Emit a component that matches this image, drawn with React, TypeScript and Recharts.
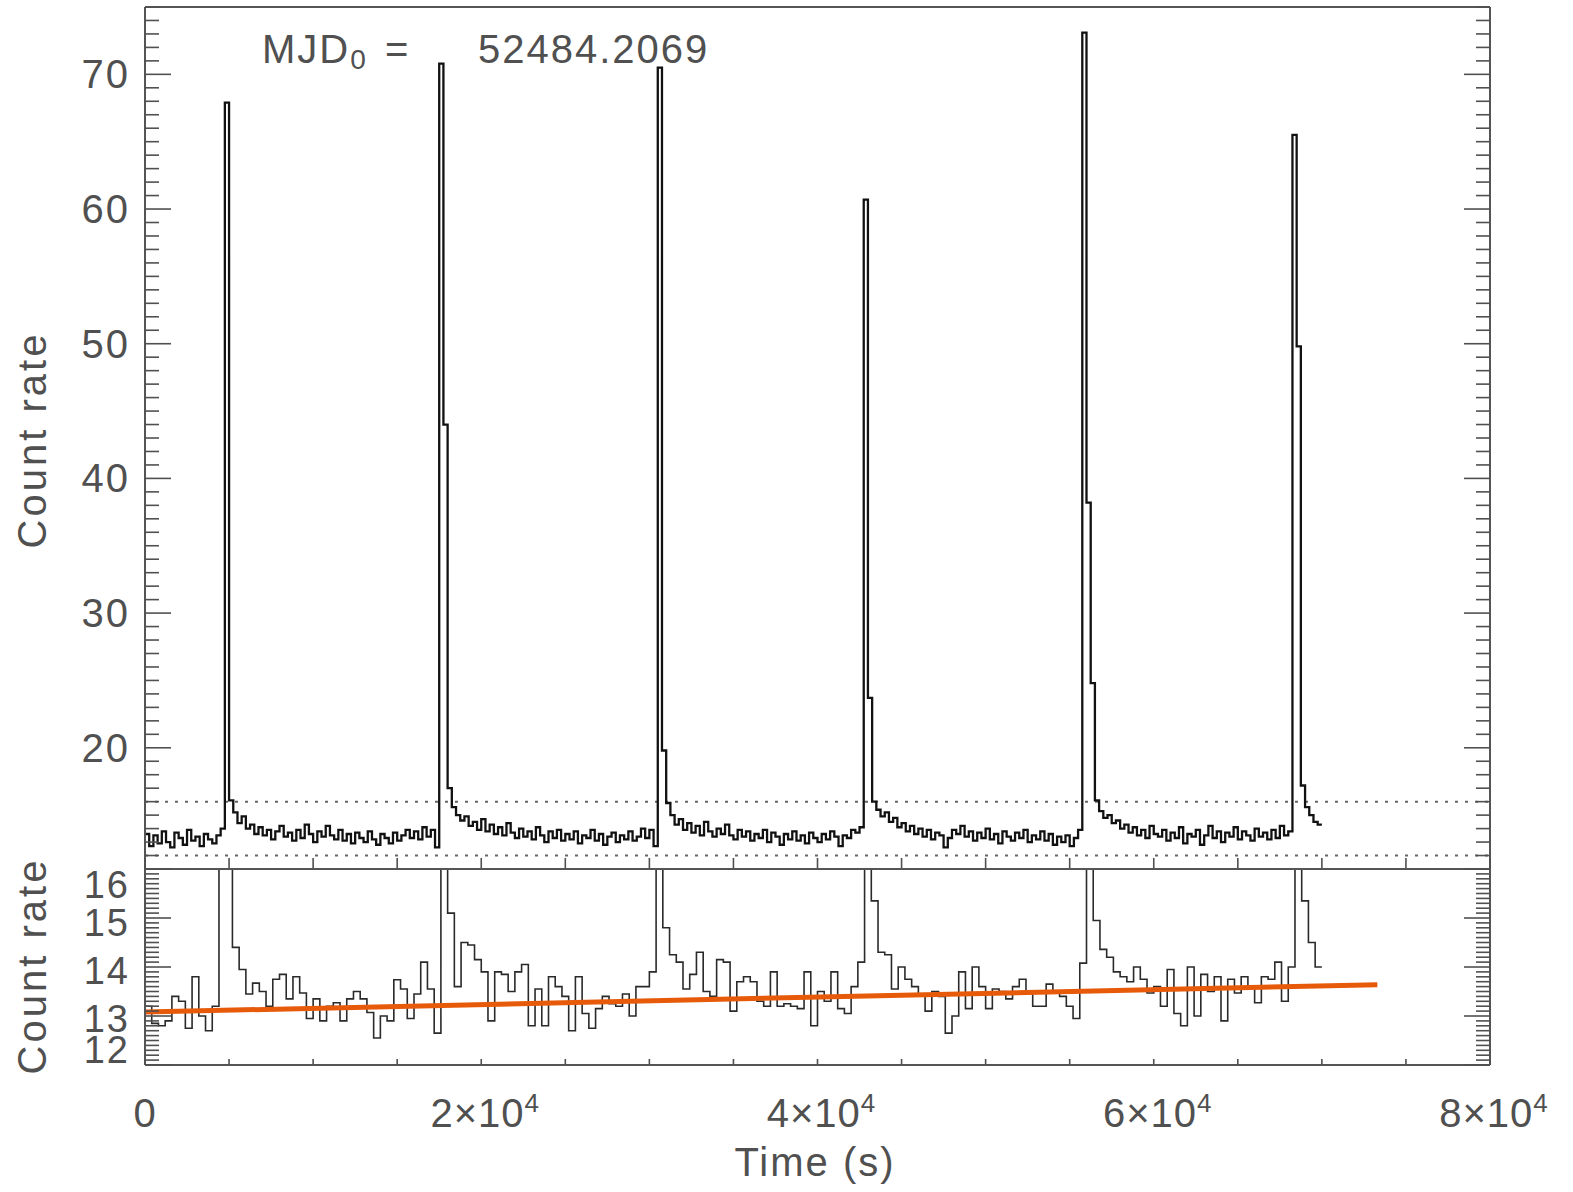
import React from 'react';
import { LineChart, Line, XAxis, YAxis, ReferenceLine } from 'recharts';

// light curve, 250 s bins (upper panel)
const FINE_BIN = 250;
const fineRate = [
  13.6, 12.7, 13.5, 12.9, 13.8, 13.0, 12.6, 13.7, 13.3, 12.8,
  13.9, 13.1, 13.4, 12.7, 13.6, 13.2, 12.9, 13.5, 14.0, 67.9,
  16.1, 15.2, 14.4, 14.9, 14.0, 14.3, 13.6, 14.1, 13.5, 13.9,
  13.2, 13.8, 14.2, 13.4, 13.7, 13.1, 13.9, 13.3, 14.3, 13.6,
  13.0, 13.8, 13.4, 14.2, 13.5, 13.2, 13.9, 13.1, 13.6, 12.9,
  13.7, 13.3, 13.0, 13.8, 13.2, 12.8, 13.6, 13.3, 12.9, 13.7,
  13.1, 13.5, 13.9, 13.3, 13.8, 13.2, 14.1, 13.4, 13.9, 12.6,
  70.8, 44.0, 17.0, 15.6, 15.0, 14.6, 14.9, 14.2, 14.5, 13.9,
  14.7, 13.8, 14.3, 13.6, 14.1, 13.5, 14.4, 13.7, 13.3, 14.0,
  13.4, 13.8, 13.2, 14.1, 13.5, 13.0, 13.8, 13.3, 13.9, 13.1,
  13.6, 13.2, 13.8, 12.9, 13.5, 13.3, 13.9, 13.1, 13.6, 12.8,
  13.4, 13.7, 13.0, 13.5, 13.2, 13.8, 13.1, 13.4, 14.0, 13.3,
  13.9, 12.7, 70.5, 19.8, 15.9, 15.0, 14.3, 14.7, 13.9, 14.4,
  13.7, 14.2, 13.5, 14.5, 13.8, 13.4, 14.0, 13.6, 14.3, 13.5,
  13.2, 13.9, 13.4, 13.8, 13.1, 13.6, 13.3, 13.9, 13.0, 13.7,
  13.4, 12.8, 13.6, 13.2, 13.8, 13.1, 13.5, 12.9, 13.7, 13.3,
  13.0, 13.6, 13.2, 13.8, 13.4, 12.7, 13.5, 13.3, 13.9, 13.7,
  14.1, 60.7, 23.7, 16.0, 15.4, 14.9, 15.2, 14.5, 14.8, 14.1,
  14.4, 13.8, 14.2, 13.6, 14.0, 13.4, 13.9, 13.2, 13.7, 13.5,
  12.6, 13.3, 13.9, 13.6, 14.2, 13.4, 13.8, 13.1, 13.7, 13.3,
  14.0, 13.2, 13.6, 12.9, 13.8, 13.4, 13.1, 13.7, 13.3, 13.9,
  13.0, 13.5, 13.2, 13.8, 13.1, 13.6, 12.8, 13.4, 13.0, 13.5,
  12.7, 13.3, 13.9, 73.1, 38.2, 24.8, 16.1, 15.3, 14.8, 15.0,
  14.4, 14.6, 14.0, 14.3, 13.7, 14.1, 13.5, 13.9, 13.3, 14.2,
  13.6, 13.4, 13.9, 13.1, 13.7, 13.3, 14.1, 12.9, 13.6, 13.4,
  13.9, 12.8, 13.5, 14.2, 13.3, 13.8, 13.0, 13.7, 13.4, 14.1,
  13.2, 13.8, 13.5, 13.1, 14.0, 13.4, 13.7, 13.2, 13.9, 13.3,
  14.2, 13.5, 13.8, 65.5, 49.8, 17.2, 15.6, 15.0, 14.5, 14.3,
];

// same curve, 400 s bins (lower panel)
const COARSE_BIN = 400;
const coarseRate = [
  13.2, 12.85, 12.8, 12.9, 13.4, 13.3, 12.75, 13.8, 13.0, 12.7,
  13.2, 30.0, 20.0, 14.4, 13.95, 13.45, 13.67, 13.5, 13.2, 13.75,
  13.85, 13.35, 13.8, 13.47, 12.95, 13.35, 12.9, 13.2, 13.27, 12.9,
  13.35, 13.5, 13.35, 13.07, 12.55, 13.0, 12.9, 13.74, 13.55, 12.95,
  13.45, 14.1, 13.55, 12.65, 40.0, 15.1, 13.6, 14.5, 14.45, 14.15,
  13.9, 12.9, 13.9, 13.85, 13.5, 13.9, 14.05, 12.8, 13.55, 12.8,
  13.8, 13.6, 13.4, 12.7, 13.8, 13.05, 12.75, 13.15, 13.4, 13.25,
  13.2, 13.45, 13.0, 13.6, 13.6, 13.9, 30.0, 14.8, 14.25, 14.1,
  13.55, 13.85, 14.3, 13.5, 13.4, 14.15, 14.1, 13.1, 13.7, 13.8,
  13.7, 13.3, 13.2, 13.9, 13.2, 13.25, 13.2, 13.15, 13.9, 12.8,
  13.5, 13.3, 13.9, 13.15, 13.05, 13.6, 14.1, 25.0, 15.35, 14.3,
  14.25, 13.55, 14.0, 13.75, 13.6, 13.45, 13.1, 13.5, 13.4, 12.65,
  13.0, 13.9, 13.15, 14.0, 13.6, 13.15, 13.55, 13.5, 13.35, 13.6,
  13.75, 13.5, 13.2, 13.2, 13.65, 13.47, 13.4, 13.2, 12.95, 14.08,
  28.0, 14.95, 14.36, 14.2, 13.9, 13.8, 13.7, 14.0, 13.75, 13.47,
  13.6, 13.2, 13.95, 13.05, 12.8, 14.0, 13.0, 13.85, 13.5, 13.8,
  12.9, 13.75, 13.47, 13.8, 13.6, 13.27, 13.8, 13.75, 14.1, 13.3,
  14.0, 26.0, 15.35, 14.5, 14.0,
];

// fitted linear trend of the quiescent level
const trendTime = [0, 73300];
const trendRate = [13.08, 13.64];

const timeTicks = [0, 5000, 10000, 15000, 20000, 25000, 30000, 35000, 40000, 45000, 50000, 55000, 60000, 65000, 70000, 75000, 80000];
const timeLabels: Record<number, string[]> = {
  0: ['0', ''],
  20000: ['2×10', '4'],
  40000: ['4×10', '4'],
  60000: ['6×10', '4'],
  80000: ['8×10', '4'],
};
const topMajor = [20, 30, 40, 50, 60, 70];
const bottomMajor = [12, 13, 14, 15, 16];
const bandLimits = [12, 16];
const mjd0 = '52484.2069';

const INK = '#505050';
const FONT = '"Liberation Sans", Arial, sans-serif';
const W = 1573;

const toSteps = (vals: number[], bin: number) => {
  const pts = vals.map((v, i) => ({ t: i * bin, v }));
  pts.push({ t: vals.length * bin, v: vals[vals.length - 1] });
  return pts;
};

const fineData = toSteps(fineRate, FINE_BIN);
const coarseData = toSteps(coarseRate, COARSE_BIN);
const trendData = trendTime.map((t, i) => ({ t, v: trendRate[i] }));

const topTicks: number[] = [];
for (let v = 11; v <= 75; v++) topTicks.push(v);
const bottomTicks: number[] = [];
for (let k = 120; k <= 160; k++) bottomTicks.push(k / 10);

const bottomLabelShift: Record<number, number> = { 16: 15, 15: 4, 14: 3, 13: 2, 12: -16 };

const yTick = (major: number[], side: 'left' | 'right', labels: boolean, size = 40, shift?: Record<number, number>) =>
  (props: any) => {
    const { x, y, payload } = props;
    const v = Math.round(payload.value * 10) / 10;
    const isMajor = major.includes(v);
    const len = isMajor ? 26 : 14;
    const dir = side === 'left' ? 1 : -1;
    return (
      <g>
        <line x1={x} y1={y} x2={x + dir * len} y2={y} stroke={INK} strokeWidth={1.6} />
        {labels && isMajor && (
          <text x={x - 15} y={y + 14 + (shift ? shift[v] || 0 : 0)} textAnchor="end"
            fontFamily={FONT} fontSize={size} letterSpacing={2} fill={INK}>{v}</text>
        )}
      </g>
    );
  };

const xTick = (len: number, labels: boolean) => (props: any) => {
  const { x, y, payload } = props;
  const lab = timeLabels[payload.value];
  return (
    <g>
      <line x1={x} y1={y} x2={x} y2={y + len} stroke={INK} strokeWidth={1.6} />
      {labels && lab && (
        <text x={x + (lab[1] ? 4 : 0)} y={y + 62} textAnchor="middle" fontFamily={FONT} fontSize={40}
          letterSpacing={1} fill={INK}>
          {lab[0]}
          {lab[1] && <tspan dy={-15} fontSize={26}>{lab[1]}</tspan>}
        </text>
      )}
    </g>
  );
};

const axisLine = { stroke: '#555', strokeWidth: 2 };

export default function App() {
  return (
    <div style={{ position: 'absolute', left: 0, top: 0, width: W, height: 1192, background: '#fff' }}>
      <style>{'.recharts-surface{overflow:visible}'}</style>
      <div style={{ position: 'absolute', left: 0, top: 0 }}>
        <LineChart width={W} height={870} margin={{ top: 0, right: 0, bottom: 0, left: 0 }}>
          <XAxis xAxisId="b" dataKey="t" type="number" domain={[0, 80000]} ticks={timeTicks} interval={0}
            height={1} tickSize={0} tickMargin={0} tickLine={false} axisLine={axisLine} tick={xTick(-11, false)} />
          <XAxis xAxisId="t" orientation="top" dataKey="t" type="number" domain={[0, 80000]} ticks={timeTicks}
            interval={0} height={7} tickSize={0} tickMargin={0} tickLine={false} axisLine={axisLine} tick={xTick(9, false)} />
          <YAxis yAxisId="l" type="number" domain={[11, 75]} allowDataOverflow ticks={topTicks} interval={0}
            width={145} tickSize={0} tickMargin={0} tickLine={false} axisLine={axisLine} tick={yTick(topMajor, 'left', true)} />
          <YAxis yAxisId="r" orientation="right" type="number" domain={[11, 75]} allowDataOverflow ticks={topTicks}
            interval={0} width={83} tickSize={0} tickMargin={0} tickLine={false} axisLine={axisLine}
            tick={yTick(topMajor, 'right', false)} />
          {bandLimits.map((b) => (
            <ReferenceLine key={b} xAxisId="b" yAxisId="l" y={b} stroke="#666" strokeWidth={2} strokeDasharray="3 7" />
          ))}
          <Line xAxisId="b" yAxisId="l" data={fineData} dataKey="v" type="stepAfter" stroke="#111"
            strokeWidth={2.3} dot={false} isAnimationActive={false} />
        </LineChart>
      </div>
      <div style={{ position: 'absolute', left: 0, top: 868 }}>
        <LineChart width={W} height={324} margin={{ top: 0, right: 0, bottom: 0, left: 0 }}>
          <XAxis xAxisId="t" orientation="top" dataKey="t" type="number" domain={[0, 80000]} height={1}
            tick={false} tickLine={false} axisLine={axisLine} />
          <XAxis xAxisId="b" dataKey="t" type="number" domain={[0, 80000]} ticks={timeTicks} interval={0}
            height={127} tickSize={0} tickMargin={0} tickLine={false} axisLine={axisLine} tick={xTick(-6, true)} />
          <YAxis yAxisId="l" type="number" domain={[12, 16]} allowDataOverflow ticks={bottomTicks} interval={0}
            width={145} tickSize={0} tickMargin={0} tickLine={false} axisLine={axisLine}
            tick={yTick(bottomMajor, 'left', true, 38, bottomLabelShift)} />
          <YAxis yAxisId="r" orientation="right" type="number" domain={[12, 16]} allowDataOverflow ticks={bottomTicks}
            interval={0} width={83} tickSize={0} tickMargin={0} tickLine={false} axisLine={axisLine}
            tick={yTick(bottomMajor, 'right', false)} />
          <Line xAxisId="b" yAxisId="l" data={coarseData} dataKey="v" type="stepAfter" stroke="#2a2a2a"
            strokeWidth={1.6} dot={false} isAnimationActive={false} />
          <Line xAxisId="b" yAxisId="l" data={trendData} dataKey="v" type="linear" stroke="#E65A0A"
            strokeWidth={5} dot={false} isAnimationActive={false} />
        </LineChart>
      </div>
      <svg width={W} height={1192} style={{ position: 'absolute', left: 0, top: 0, pointerEvents: 'none' }}
        fontFamily={FONT} fill={INK}>
        <text x={262} y={63} fontSize={40} letterSpacing={2}>
          MJD<tspan fontSize={28} dy={6}>0</tspan>
        </text>
        <text x={385} y={63} fontSize={40}>=</text>
        <text x={478} y={63} fontSize={40} letterSpacing={2}>{mjd0}</text>
        <text transform="translate(46,440) rotate(-90)" textAnchor="middle" fontSize={40} letterSpacing={3}>Count rate</text>
        <text transform="translate(46,966) rotate(-90)" textAnchor="middle" fontSize={40} letterSpacing={3}>Count rate</text>
        <text x={815} y={1176} textAnchor="middle" fontSize={40} letterSpacing={2}>Time (s)</text>
      </svg>
    </div>
  );
}
